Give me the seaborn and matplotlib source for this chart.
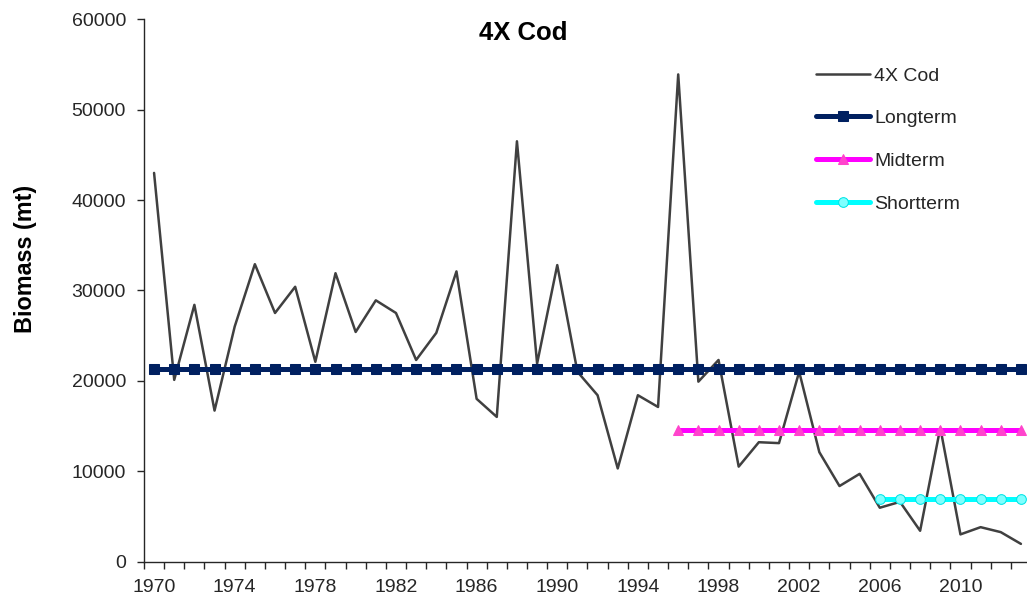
import numpy as np
import pandas as pd
import seaborn as sns
import matplotlib.pyplot as plt
from matplotlib.ticker import MultipleLocator, FixedLocator

# biomass of 4X cod (mt)
years = list(range(1970, 2014))
cod = [43000, 20100, 28400, 16700, 26000, 32900, 27500, 30400, 22100, 31900,
       25400, 28900, 27500, 22300, 25300, 32100, 18000, 16000, 46500, 21900,
       32800, 21000, 18400, 10300, 18400, 17100, 53900, 19900, 22300, 10500,
       13200, 13100, 21000, 12100, 8350, 9700, 5950, 6600, 3400, 14800,
       3000, 3800, 3250, 1950]

# reference levels and the first year each one is drawn from
longterm_level, longterm_start = 21300, 1970
midterm_level, midterm_start = 14500, 1996
shortterm_level, shortterm_start = 6870, 2006

df = pd.DataFrame({'Year': years, 'Biomass': cod})
df['Longterm'] = np.where(df['Year'] >= longterm_start, longterm_level, np.nan)
df['Midterm'] = np.where(df['Year'] >= midterm_start, midterm_level, np.nan)
df['Shortterm'] = np.where(df['Year'] >= shortterm_start, shortterm_level, np.nan)

sns.set_theme(style='ticks')
plt.rcParams['font.family'] = ['Liberation Sans', 'DejaVu Sans']

fig = plt.figure(figsize=(10.27, 5.99), dpi=100)
ax = fig.add_axes([0.1402, 0.0626, 0.8637, 0.9052])

sns.lineplot(data=df, x='Year', y='Biomass', ax=ax, color='#404040',
             linewidth=1.8, label='4X Cod')
sns.lineplot(data=df.dropna(subset=['Longterm']), x='Year', y='Longterm', ax=ax,
             color='#002060', linewidth=3.6, marker='s', markersize=7,
             markeredgecolor='#002060', solid_capstyle='round', label='Longterm')
sns.lineplot(data=df.dropna(subset=['Midterm']), x='Year', y='Midterm', ax=ax,
             color='#FF00FF', linewidth=3.6, marker='^', markersize=7.5,
             markerfacecolor='#FF44CC', markeredgecolor='#FF44CC',
             solid_capstyle='round', label='Midterm')
sns.lineplot(data=df.dropna(subset=['Shortterm']), x='Year', y='Shortterm', ax=ax,
             color='#00FFFF', linewidth=3.6, marker='o', markersize=7,
             markerfacecolor='#7FFFFF', markeredgecolor='#00E5E5',
             solid_capstyle='round', label='Shortterm')

ax.set_xlim(1969.5, 2013.5)
ax.set_ylim(0, 60000)
ax.yaxis.set_major_locator(MultipleLocator(10000))
ax.xaxis.set_major_locator(FixedLocator(list(range(1970, 2014, 4))))
ax.xaxis.set_minor_locator(FixedLocator([y + 0.5 for y in range(1969, 2014)]))
ax.tick_params(axis='x', which='major', length=0, pad=12.5, labelsize=14, colors='#262626')
ax.tick_params(axis='x', which='minor', length=5, width=1, color='#262626')
ax.tick_params(axis='y', length=5, width=1, pad=8, labelsize=14, colors='#262626')
ax.set_xlabel('')
ax.set_ylabel('')
for side in ['top', 'right']:
    ax.spines[side].set_visible(False)
for side in ['left', 'bottom']:
    ax.spines[side].set_color('#262626')
    ax.spines[side].set_linewidth(1)

fig.text(523.7 / 1027, 1 - 32.5 / 599, '4X Cod', ha='center', va='center',
         fontsize=18.5, fontweight='bold', color='black')
fig.text(26 / 1027, 1 - 259 / 599, 'Biomass (mt)', ha='center', va='center',
         rotation=90, fontsize=16.8, fontweight='bold', color='black')

leg = ax.legend(loc='upper left', bbox_to_anchor=(816 / 1027, 1 - 67 / 599),
                bbox_transform=fig.transFigure, frameon=False, fontsize=14,
                handlelength=2.8, handletextpad=0.2, labelspacing=1.29,
                borderpad=0, borderaxespad=0)
for t in leg.get_texts():
    t.set_color('#262626')

fig.savefig('out.png', dpi=100)
plt.close(fig)
